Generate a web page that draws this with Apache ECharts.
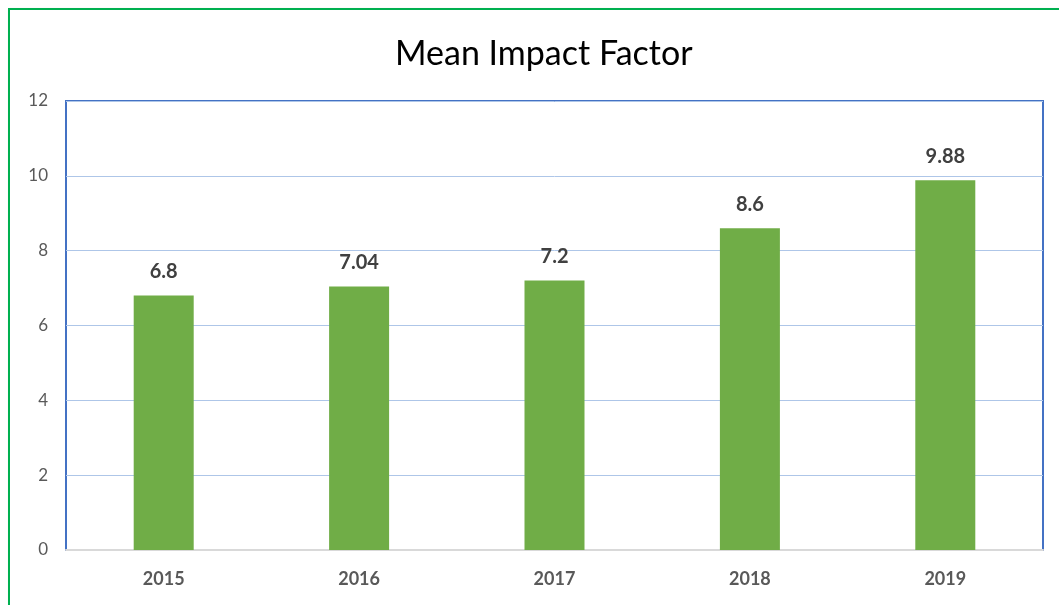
<!DOCTYPE html>
<html>
<head>
<meta charset="utf-8">
<script src="https://cdn.jsdelivr.net/npm/echarts@6/dist/echarts.min.js"></script>
<style>
  html, body { margin: 0; padding: 0; background: #fff; overflow: hidden; }
  #frame {
    position: absolute; left: 8px; top: 8px; width: 1200px; height: 800px;
    border: 2px solid #00b050; box-shadow: 1px 1px 2px #ccc;
  }
  #chart { position: absolute; left: 0; top: 0; width: 1059px; height: 605px; }
</style>
</head>
<body>
<div id="frame"></div>
<div id="chart"></div>
<script>
// data
var years = ['2015', '2016', '2017', '2018', '2019'];
var meanIF = [6.8, 7.04, 7.2, 8.6, 9.88];
var yTicks = [0, 2, 4, 6, 8, 10, 12];

var chart = echarts.init(document.getElementById('chart'));

var option = {
  animation: false,
  title: {
    text: 'Mean Impact Factor',
    left: 390,
    top: 32,
    textStyle: { fontFamily: 'Lato', fontSize: 34, fontWeight: 'normal', color: '#000' }
  },
  grid: {
    left: 66, top: 101, right: 16, bottom: 55,
    show: true, borderColor: '#4472c4', borderWidth: 2, backgroundColor: '#fff'
  },
  xAxis: {
    type: 'category',
    data: years,
    axisTick: { show: false },
    axisLine: { lineStyle: { color: '#d9d9d9', width: 2 } },
    axisLabel: {
      margin: 20, color: '#595959', fontFamily: 'Lato', fontSize: 18, fontWeight: 'bold'
    }
  },
  yAxis: {
    type: 'value',
    min: yTicks[0],
    max: yTicks[yTicks.length - 1],
    interval: 2,
    axisLine: { show: false },
    axisTick: { show: false },
    splitLine: { lineStyle: { color: '#aec6e8', width: 1 } },
    axisLabel: { margin: 18, color: '#595959', fontFamily: 'Lato', fontSize: 17 }
  },
  series: [{
    type: 'bar',
    data: meanIF,
    barWidth: 60,
    itemStyle: { color: '#70ad47' },
    label: {
      show: true,
      position: 'top',
      distance: 14,
      color: '#404040',
      fontFamily: 'Lato',
      fontSize: 20,
      fontWeight: 'bold'
    }
  }]
};

chart.setOption(option);
</script>
</body>
</html>
